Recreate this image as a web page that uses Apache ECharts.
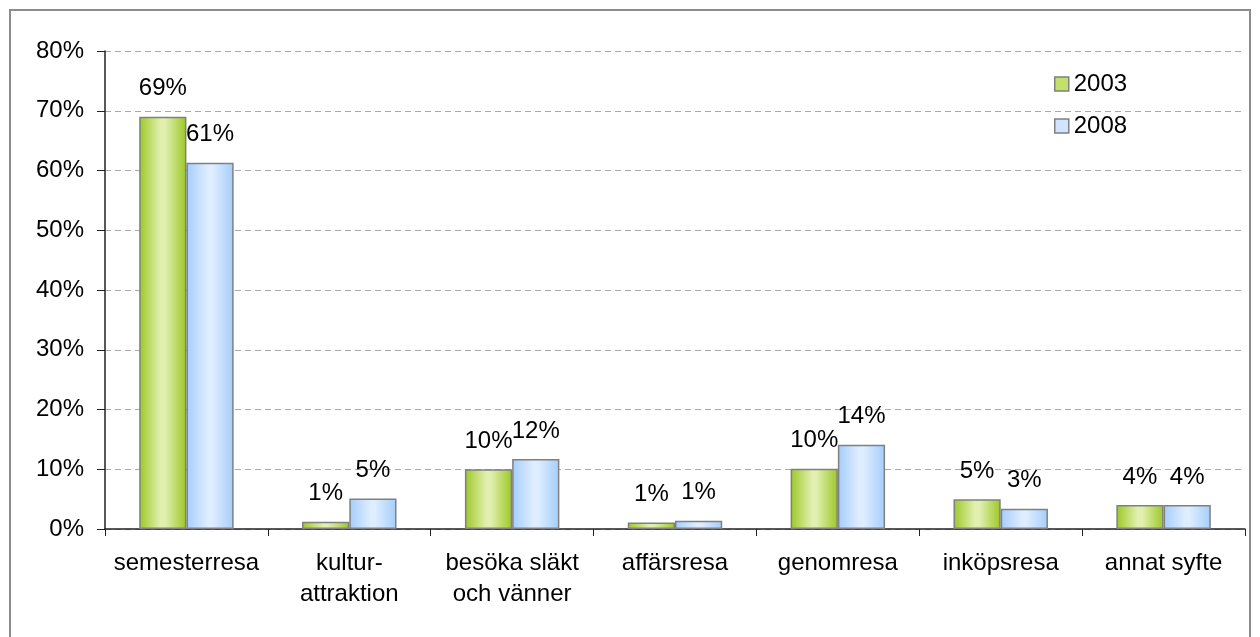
<!DOCTYPE html>
<html><head><meta charset="utf-8">
<script src="https://cdn.jsdelivr.net/npm/echarts@6/dist/echarts.min.js"></script>
<style>html,body{margin:0;padding:0;background:#fff}#c{width:1260px;height:637px}</style>
</head><body><div id="c"></div>
<script>
const categories = ['semesterresa','kultur-\nattraktion','besöka släkt\noch vänner','affärsresa','genomresa','inköpsresa','annat syfte'];
const values2003 = [69, 1.2, 10.0, 1.1, 10.1, 5.0, 4.0];
const values2008 = [61.3, 5.1, 11.7, 1.4, 14.1, 3.4, 4.0];
const seriesNames = ['2003','2008'];

const F = 'Liberation Sans, Arial, sans-serif';
const FS = 24;
function grad(edge, mid){
  return new echarts.graphic.LinearGradient(0,0,1,0,[
    {offset:0,color:edge},{offset:0.45,color:mid},{offset:0.55,color:mid},{offset:1,color:edge}]);
}
const green = grad('#9cc825','#e1efb0');
const blue = grad('#a4cdfb','#deedff');
const lab = {show:true, position:'top', distance:16, color:'#000', fontFamily:F, fontSize:FS,
  formatter: p => Math.round(p.value) + '%'};

const chart = echarts.init(document.getElementById('c'), null, {renderer:'canvas'});
chart.setOption({
  animation:false,
  backgroundColor:'#fff',
  graphic:[{type:'rect', shape:{x:10,y:10,width:1240,height:660}, style:{fill:'none', stroke:'#8c8c8c', lineWidth:2}, silent:true}],
  legend:{
    orient:'vertical', left:1049, top:67, itemWidth:14, itemHeight:14, itemGap:18,
    icon:'rect',
    textStyle:{fontFamily:F, fontSize:FS, color:'#000'},
    data:[
      {name:'2003', itemStyle:{color:'#c2e06a', borderColor:'#808080', borderWidth:1.5}},
      {name:'2008', itemStyle:{color:'#cfe5ff', borderColor:'#808080', borderWidth:1.5}}
    ]
  },
  grid:{left:105, right:15, top:51, bottom:108},
  xAxis:{
    type:'category', data:categories, boundaryGap:true,
    axisLine:{lineStyle:{color:'#222', width:1.5}},
    axisTick:{show:true, length:7, alignWithLabel:false, lineStyle:{color:'#222'}},
    axisLabel:{fontFamily:F, fontSize:FS, color:'#000', margin:19, lineHeight:31, interval:0}
  },
  yAxis:{
    type:'value', min:0, max:80, interval:10,
    axisLine:{show:true, lineStyle:{color:'#222', width:1.5}},
    axisTick:{show:true, length:8, lineStyle:{color:'#222'}},
    axisLabel:{fontFamily:F, fontSize:FS, color:'#000', margin:21, formatter:'{value}%'},
    splitLine:{show:true, lineStyle:{color:'#aaaaaa', type:[6,4], width:1}}
  },
  series:[
    {name:seriesNames[0], type:'bar', data:values2003, barGap:'0%', barCategoryGap:'42%',
     itemStyle:{color:green, borderColor:'#808080', borderWidth:1.5}, label:lab},
    {name:seriesNames[1], type:'bar', data:values2008, barGap:'0%', barCategoryGap:'42%',
     itemStyle:{color:blue, borderColor:'#808080', borderWidth:1.5}, label:lab}
  ]
});
</script></body></html>
